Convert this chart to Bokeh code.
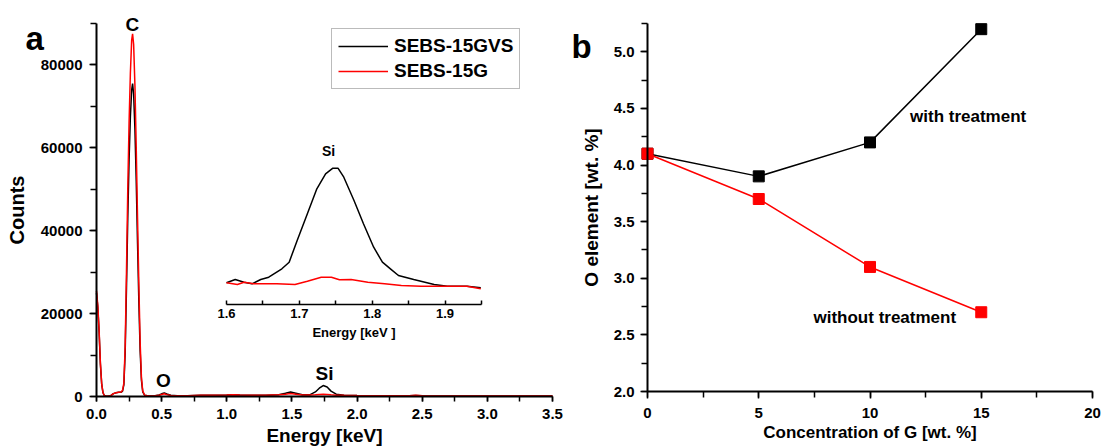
from bokeh.plotting import figure
from bokeh.models import (Range1d, LinearAxis, SingleIntervalTicker, FixedTicker,
                          PrintfTickFormatter, Label, Legend, LegendItem)
from bokeh.layouts import row
from bokeh.embed import file_html
from bokeh.resources import INLINE

# ---------------- DATA ----------------
# Panel a: EDS spectrum
energy_keV = [0.00, 0.01, 0.02, 0.03, 0.04, 0.05, 0.06, 0.07, 0.09, 0.11, 0.13, 0.15, 0.17, 0.19,
              0.20, 0.21, 0.22, 0.23, 0.24, 0.25, 0.26, 0.27, 0.277, 0.285, 0.295, 0.305, 0.315,
              0.325, 0.335, 0.345, 0.355, 0.37, 0.40, 0.45, 0.48, 0.50, 0.52, 0.54, 0.57, 0.62,
              0.70, 0.80, 0.90, 1.00, 1.05, 1.10, 1.20, 1.30, 1.40, 1.45, 1.49, 1.53, 1.58, 1.64,
              1.68, 1.71, 1.74, 1.77, 1.80, 1.84, 1.90, 2.00, 2.20, 2.40, 2.45, 2.50, 2.70, 3.00,
              3.25, 3.50]
counts_15G = [25500, 22000, 16000, 8000, 3000, 900, 250, 80, 50, 200, 700, 900, 1000, 1100,
              1500, 3200, 12000, 30000, 50000, 66000, 78000, 86000, 87500, 85000, 75000, 60000, 43000,
              27000, 13000, 4500, 1300, 300, 150, 200, 300, 500, 650, 450, 250, 200,
              200, 300, 300, 350, 400, 350, 300, 300, 400, 550, 700, 550, 350, 350,
              400, 480, 550, 480, 400, 330, 280, 250, 200, 200, 300, 200, 150, 120,
              100, 100]
counts_15GVS = [25000, 21500, 15500, 7800, 2900, 900, 250, 80, 50, 200, 700, 900, 1000, 1050,
                1300, 2800, 10500, 26000, 43000, 57000, 67500, 74000, 75500, 73000, 64500, 52000, 37000,
                23000, 11000, 3900, 1100, 300, 150, 200, 350, 650, 850, 600, 300, 200,
                200, 300, 300, 350, 450, 350, 300, 300, 450, 800, 1100, 800, 400, 450,
                1100, 2000, 2650, 2300, 1300, 550, 300, 250, 200, 200, 250, 200, 150, 120,
                100, 100]

# Inset: Si peak region
inset_energy_GVS = [1.600, 1.612, 1.624, 1.635, 1.647, 1.658, 1.676, 1.686, 1.697, 1.711, 1.724,
                    1.736, 1.746, 1.753, 1.761, 1.775, 1.788, 1.802, 1.814, 1.825, 1.836, 1.857,
                    1.885, 1.903, 1.930, 1.949]
inset_counts_GVS = [414, 480, 426, 394, 480, 526, 694, 826, 1260, 1794, 2294,
                    2594, 2706, 2706, 2526, 2060, 1594, 1126, 826, 694, 560, 480,
                    380, 346, 346, 314]
inset_energy_G = [1.600, 1.615, 1.624, 1.637, 1.669, 1.694, 1.711, 1.730, 1.744, 1.755, 1.771,
                  1.794, 1.817, 1.840, 1.867, 1.899, 1.930, 1.949]
inset_counts_G = [414, 380, 426, 394, 394, 380, 446, 526, 526, 474, 480,
                  426, 394, 360, 346, 346, 346, 294]
inset_ticks = [1.6, 1.7, 1.8, 1.9]
inset_minor_ticks = [1.65, 1.75, 1.85, 1.95]

# Panel b: O element content
conc_G = [0, 5, 10, 15]
O_with_treatment = [4.1, 3.9, 4.2, 5.2]
O_without_treatment = [4.1, 3.7, 3.1, 2.7]

series_names = ["SEBS-15GVS", "SEBS-15G"]

# ---------------- STYLE ----------------
FONT = "Liberation Sans"
RED = "#ff0000"
H = 446


def style_axis(ax, tick_size, label_size, standoff, label_standoff, tick_out=7, minor_out=6):
    ax.axis_line_width = 2
    ax.axis_line_color = "black"
    ax.major_tick_line_width = 1.5
    ax.minor_tick_line_width = 1.5
    ax.major_tick_line_color = "black"
    ax.minor_tick_line_color = "black"
    ax.major_tick_out = tick_out
    ax.major_tick_in = 0
    ax.minor_tick_out = minor_out
    ax.minor_tick_in = 0
    ax.major_label_text_font = FONT
    ax.major_label_text_font_style = "bold"
    ax.major_label_text_font_size = f"{tick_size}px"
    ax.major_label_text_color = "black"
    ax.major_label_standoff = standoff
    ax.axis_label_text_font = FONT
    ax.axis_label_text_font_style = "bold"
    ax.axis_label_text_font_size = f"{label_size}px"
    ax.axis_label_text_color = "black"
    ax.axis_label_standoff = label_standoff


def add_label(p, x, y, text, size, align="center", baseline="middle", x_range_name="default",
              y_range_name="default", units="data"):
    p.add_layout(Label(x=x, y=y, text=text, text_font=FONT, text_font_style="bold",
                       text_font_size=f"{size}px", text_align=align, text_baseline=baseline,
                       text_color="black", x_range_name=x_range_name, y_range_name=y_range_name,
                       x_units=units, y_units=units))


def panel_figure(fig_w, left, right, top, bottom, xr, yr):
    """Figure whose frame fills the whole canvas; the axis box sits at the given pixel margins."""
    sx = (xr[1] - xr[0]) / (fig_w - left - right)
    sy = (yr[1] - yr[0]) / (H - top - bottom)
    p = figure(width=fig_w, height=H,
               x_range=Range1d(xr[0] - left * sx, xr[1] + right * sx),
               y_range=Range1d(yr[0] - bottom * sy, yr[1] + top * sy),
               x_axis_type=None, y_axis_type=None, min_border=0,
               output_backend="svg", toolbar_location=None)
    p.outline_line_color = None
    p.grid.visible = False
    p.background_fill_color = "white"
    p.border_fill_color = "white"
    return p


# ---------------- PANEL A ----------------
xr_a, yr_a = (0.0, 3.5), (0, 90000)
p1 = panel_figure(566, 96, 14, 23, 50, xr_a, yr_a)

xa = LinearAxis(fixed_location=yr_a[0], bounds=xr_a,
                ticker=SingleIntervalTicker(interval=0.5, num_minor_ticks=2),
                formatter=PrintfTickFormatter(format="%.1f"), axis_label="Energy [keV]")
style_axis(xa, 15, 19, 7, 3, tick_out=5, minor_out=5)
p1.add_layout(xa, "below")
ya = LinearAxis(fixed_location=xr_a[0], bounds=yr_a,
                ticker=SingleIntervalTicker(interval=20000, num_minor_ticks=2),
                axis_label="Counts")
style_axis(ya, 15, 20, 7, 10)
p1.add_layout(ya, "left")

r_gvs = p1.line(energy_keV, counts_15GVS, line_color="black", line_width=1.5)
r_g = p1.line(energy_keV, counts_15G, line_color=RED, line_width=1.5)

# inset placement, in canvas pixels
inset_px_left, inset_px_right = 226, 481          # x of 1.60 and 1.95 keV
inset_e0, inset_e1 = 1.6, 1.95
k = (inset_e1 - inset_e0) / (inset_px_right - inset_px_left)
p1.extra_x_ranges = {"inset": Range1d(inset_e0 - inset_px_left * k,
                                      inset_e1 + (566 - inset_px_right) * k)}
# inset vertical: 400 counts at 163 px above the canvas bottom, 20 counts per px
p1.extra_y_ranges = {"inset_y": Range1d(400 - 163 * 20, 400 + (H - 163) * 20)}

p1.line(inset_energy_GVS, inset_counts_GVS, line_color="black", line_width=1.5,
        x_range_name="inset", y_range_name="inset_y")
p1.line(inset_energy_G, inset_counts_G, line_color=RED, line_width=1.5,
        x_range_name="inset", y_range_name="inset_y")

inset_axis = LinearAxis(x_range_name="inset", fixed_location=22200, bounds=(inset_e0, inset_e1),
                        ticker=FixedTicker(ticks=inset_ticks, minor_ticks=inset_minor_ticks),
                        formatter=PrintfTickFormatter(format="%.1f"),
                        axis_label="Energy [keV ]")
style_axis(inset_axis, 13, 13, 5, 3, tick_out=0, minor_out=0)
inset_axis.major_tick_in = 4
inset_axis.minor_tick_in = 4
inset_axis.axis_line_width = 1.5
p1.add_layout(inset_axis, "below")

legend = Legend(items=[LegendItem(label=series_names[0], renderers=[r_gvs]),
                       LegendItem(label=series_names[1], renderers=[r_g])],
                location=(331, 357))
legend.label_text_font = FONT
legend.label_text_font_style = "bold"
legend.label_text_font_size = "19px"
legend.label_text_color = "black"
legend.glyph_width = 50
legend.glyph_height = 20
legend.label_height = 20
legend.label_standoff = 6
legend.spacing = 3
legend.padding = 6
legend.margin = 0
legend.border_line_color = "#777777"
legend.border_line_width = 1.5
legend.background_fill_alpha = 1
p1.add_layout(legend)

# panel letter (canvas px from bottom-left) and peak labels
add_label(p1, 25, H - 38, "a", 33, align="left", baseline="alphabetic", units="screen")
add_label(p1, 0.276, 89700, "C", 19)
add_label(p1, 0.514, 3900, "O", 19)
add_label(p1, 1.75, 5500, "Si", 19)
add_label(p1, 1.74, 3060, "Si", 14, x_range_name="inset", y_range_name="inset_y")

# ---------------- PANEL B ----------------
xr_b, yr_b = (0, 20), (2.0, 5.25)
p2 = panel_figure(535, 81, 9, 23, 55, xr_b, yr_b)

xb = LinearAxis(fixed_location=yr_b[0], bounds=xr_b,
                ticker=SingleIntervalTicker(interval=5, num_minor_ticks=2),
                axis_label="Concentration of G [wt. %]")
style_axis(xb, 15, 17, 9, 2)
p2.add_layout(xb, "below")
yb = LinearAxis(fixed_location=xr_b[0], bounds=yr_b,
                ticker=SingleIntervalTicker(interval=0.5, num_minor_ticks=2),
                formatter=PrintfTickFormatter(format="%.1f"), axis_label="O element [wt. %]")
style_axis(yb, 15, 19, 6, 9)
p2.add_layout(yb, "left")

p2.line(conc_G, O_with_treatment, line_color="black", line_width=1.5)
p2.scatter(conc_G, O_with_treatment, marker="square", size=11, color="black")
p2.line(conc_G, O_without_treatment, line_color=RED, line_width=1.5)
p2.scatter(conc_G, O_without_treatment, marker="square", size=11, color=RED)

add_label(p2, 5, H - 46, "b", 33, align="left", baseline="alphabetic", units="screen")
add_label(p2, 11.8, 4.43, "with treatment", 17, align="left")
add_label(p2, 7.46, 2.65, "without treatment", 17, align="left")

layout = row(p1, p2)
open("out.html", "w").write(file_html(layout, INLINE))
